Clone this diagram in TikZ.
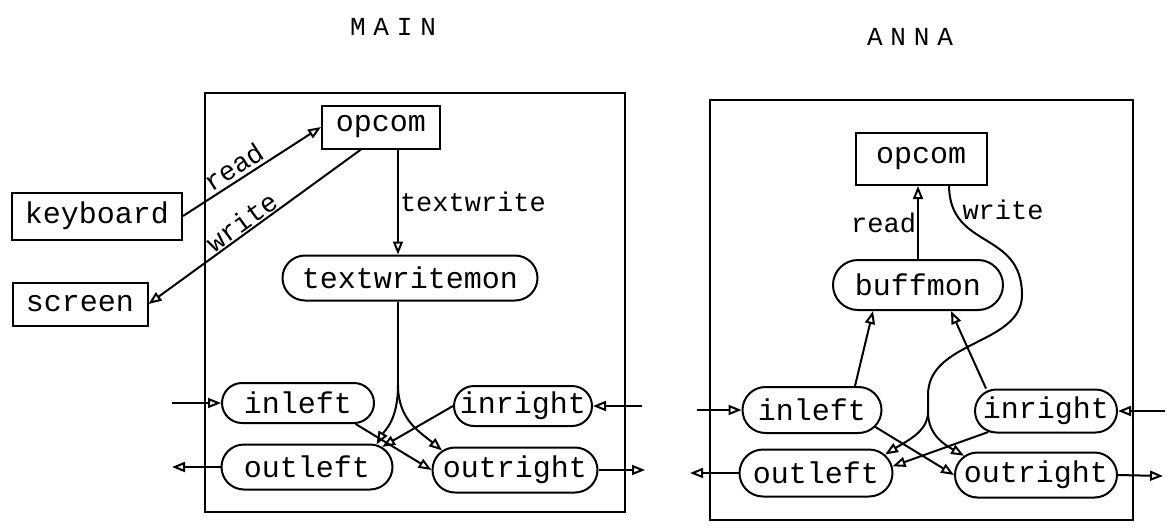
\documentclass[tikz,border=0pt]{standalone}
\usepackage{fontspec}
\setmonofont{Liberation Mono}
\newfontfamily\titlefont[LetterSpace=30]{Liberation Mono}
\usetikzlibrary{arrows.meta,shapes.misc}
\begin{document}
\begin{tikzpicture}[x=1pt,y=-1pt,line width=2pt,
  box/.style={draw,rectangle,inner sep=0pt,font=\fontsize{30}{32}\selectfont\ttfamily},
  oval/.style={draw,rounded rectangle,inner sep=0pt,font=\fontsize{30}{32}\selectfont\ttfamily},
  arr/.style={-{Triangle[open,length=13pt,width=10pt]}},
  lbl/.style={inner sep=1pt,font=\fontsize{27}{28}\selectfont\ttfamily},
  ttl/.style={font=\fontsize{26}{28}\selectfont\titlefont},
  frame/.style={draw,line width=2.2pt}]
\useasboundingbox (0,0) rectangle (1168,528);

% titles
\node[ttl] (t1) at (393,27) {MAIN};
\node[ttl] (t2) at (910,37) {ANNA};

% ===== MAIN =====
\draw[frame] (205,93) rectangle (625,512);
\node[box,minimum width=170pt,minimum height=47pt] (kb) at (97,216) {keyboard};
\node[box,minimum width=135pt,minimum height=43pt] (scr) at (80,304) {screen};
\node[box,minimum width=118pt,minimum height=43pt] (op1) at (381,127) {opcom};
\node[oval,minimum width=255pt,minimum height=45pt] (twm) at (410,278) {textwritemon};
\node[oval,minimum width=152pt,minimum height=40pt] (il1) at (298,403) {inleft};
\node[oval,minimum width=138pt,minimum height=40pt] (ir1) at (523,406) {inright};
\node[oval,minimum width=171pt,minimum height=45pt] (ol1) at (307,467) {outleft};
\node[oval,minimum width=165pt,minimum height=45pt] (or1) at (515,470) {outright};

\draw[arr] (kb.east) -- (op1.west) node[pos=0.42,above=2pt,sloped,lbl] {read};
\draw[arr] ([xshift=-20pt]op1.south) -- (scr.east) node[pos=0.53,above,sloped,lbl] {write};
\coordinate (tx) at (398,0);
\draw[arr] (op1.south -| tx) -- (twm.north -| tx) node[midway,right,lbl] {textwrite};
\coordinate (sp1) at (398,385);
\draw (twm.south -| tx) -- (sp1);
\draw[arr] (sp1) .. controls (398,420) and (385,430) .. (ol1.18);
\draw[arr] (sp1) .. controls (398,420) and (420,432) .. (or1.165);
\draw[arr] (il1.-20) -- (or1.west);
\draw[arr] (ir1.west) -- (ol1.15);

\coordinate (e1) at (172,403);
\coordinate (e2) at (172,467);
\coordinate (e3) at (642,406);
\coordinate (e4) at (645,470);
\draw[arr] (e1) -- (il1.west);
\draw[arr] (ol1.west) -- (e2);
\draw[arr] (e3) -- (ir1.east);
\draw[arr] (or1.east) -- (e4);

% ===== ANNA =====
\draw[frame] (710,100) rectangle (1133,520);
\node[box,minimum width=131pt,minimum height=52pt] (op2) at (921,159) {opcom};
\node[oval,minimum width=170pt,minimum height=50pt] (bm) at (918,285) {buffmon};
\node[oval,minimum width=139pt,minimum height=46pt] (il2) at (812,410) {inleft};
\node[oval,minimum width=142pt,minimum height=43pt] (ir2) at (1046,411) {inright};
\node[oval,minimum width=153pt,minimum height=47pt] (ol2) at (816,473) {outleft};
\node[oval,minimum width=162pt,minimum height=45pt] (or2) at (1036,475) {outright};

\draw[arr] (bm.north) -- (bm.north |- op2.south) node[midway,left,lbl] {read};
\coordinate (sp2) at (928,412);
\draw ([xshift=28pt]op2.south) .. controls (950,250) and (1022,230) .. (1022,295)
      .. controls (1022,345) and (928,340) .. (928,395) -- (sp2);
\node[lbl] (wl2) at (1003,210) {write};
\draw[arr] (sp2) .. controls (928,432) and (905,442) .. (ol2.15);
\draw[arr] (sp2) .. controls (928,435) and (945,445) .. (or2.165);
\draw[arr] ([xshift=43pt]il2.north) -- ([xshift=-45pt]bm.south);
\draw[arr] ([xshift=-60pt]ir2.north) -- ([xshift=33pt]bm.south);
\draw[arr] (il2.-15) -- (or2.west);
\draw[arr] (ir2.200) -- (ol2.5);

\coordinate (f1) at (697,410);
\coordinate (f2) at (690,473);
\coordinate (f3) at (1165,411);
\coordinate (f4) at (1163,476);
\draw[arr] (f1) -- (il2.west);
\draw[arr] (ol2.west) -- (f2);
\draw[arr] (f3) -- (ir2.east);
\draw[arr] (or2.east) -- (f4);
\end{tikzpicture}
\end{document}
